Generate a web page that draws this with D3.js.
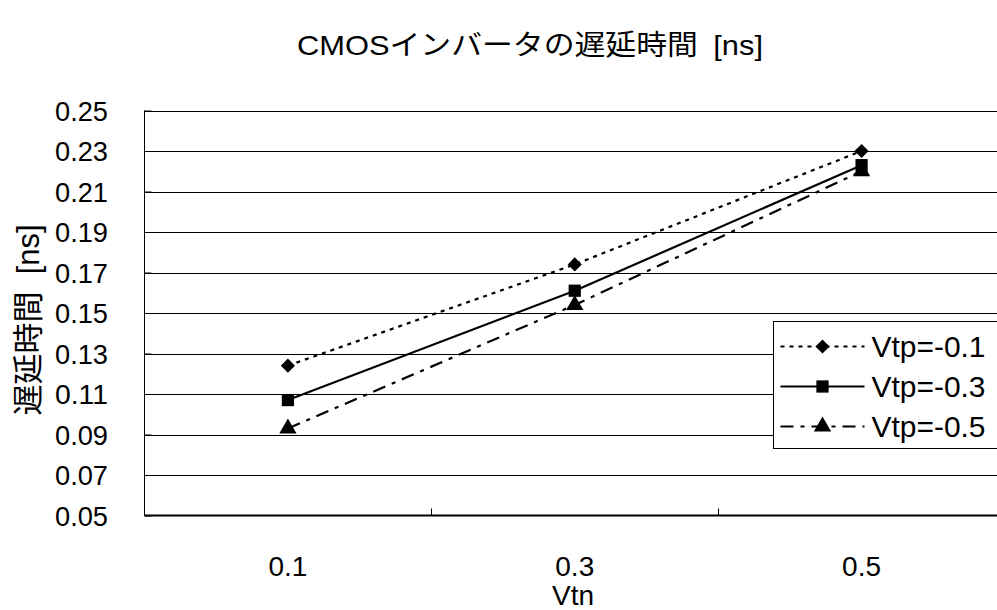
<!DOCTYPE html>
<html><head><meta charset="utf-8">
<script src="https://cdn.jsdelivr.net/npm/d3@7"></script>
<style>
html,body{margin:0;padding:0;background:#fff;overflow:hidden}
text{font-family:"Liberation Sans",Arial,"Noto Sans CJK JP",sans-serif;fill:#000;white-space:pre}
</style></head>
<body><svg id="chart" width="997" height="610"></svg>
<script>
// Delay of a CMOS inverter vs. Vtn for three Vtp settings
const categories = ["0.1", "0.3", "0.5"];
const seriesNames = ["Vtp=-0.1", "Vtp=-0.3", "Vtp=-0.5"];
const vtpA = [0.124, 0.174, 0.230];
const vtpB = [0.107, 0.161, 0.223];
const vtpC = [0.093, 0.154, 0.220];
const yTicks = [0.05, 0.07, 0.09, 0.11, 0.13, 0.15, 0.17, 0.19, 0.21, 0.23, 0.25];

// diamond = square turned by 45 degrees
const series = [
  {name: seriesNames[0], values: vtpA, dash: "4,5", symbol: d3.symbolSquare, size: 100, rot: 45},
  {name: seriesNames[1], values: vtpB, dash: null, symbol: d3.symbolSquare, size: 150, rot: 0},
  {name: seriesNames[2], values: vtpC, dash: "13,7,4,7", symbol: d3.symbolTriangle, size: 130, rot: 0}
];

const svg = d3.select("#chart");
const plotL = 144.5, plotR = 1005, plotT = 110.5, plotB = 515.5;
const fs = 28;

const x = d3.scaleBand().domain(categories).range([plotL, plotR]);
const y = d3.scaleLinear().domain([0.05, 0.25]).range([plotB, plotT]);

// horizontal gridlines
svg.append("g").selectAll("line").data(yTicks.slice(1)).join("line")
  .attr("x1", plotL).attr("x2", plotR)
  .attr("y1", d => Math.round(y(d)) + 0.5).attr("y2", d => Math.round(y(d)) + 0.5)
  .attr("stroke", "#000").attr("stroke-width", 1);

// y axis
const yAxis = svg.append("g").attr("transform", `translate(${plotL},0)`)
  .call(d3.axisRight(y).tickValues(yTicks).tickSize(7).tickFormat(""));
yAxis.select(".domain").remove();
yAxis.append("line").attr("x1", 0).attr("x2", 0).attr("y1", plotT).attr("y2", plotB)
  .attr("stroke", "#000");
yAxis.selectAll(".tick line").attr("stroke", "#000");

svg.append("g").selectAll("text").data(yTicks).join("text")
  .attr("x", 108).attr("y", d => y(d)).attr("dy", "0.36em")
  .attr("text-anchor", "end").attr("font-size", fs)
  .attr("textLength", 53).attr("lengthAdjust", "spacingAndGlyphs")
  .text(d => d3.format(".2f")(d));

// x axis: boundary ticks between categories pointing inward
svg.append("line").attr("x1", plotL).attr("x2", plotR).attr("y1", plotB).attr("y2", plotB)
  .attr("stroke", "#000").attr("stroke-width", 2);
const bounds = categories.slice(1).map(c => x(c));
svg.append("g").selectAll("line").data(bounds).join("line")
  .attr("x1", d => Math.round(d) + 0.5).attr("x2", d => Math.round(d) + 0.5)
  .attr("y1", plotB).attr("y2", plotB - 7).attr("stroke", "#000");

svg.append("g").selectAll("text").data(categories).join("text")
  .attr("x", d => x(d) + x.bandwidth() / 2).attr("y", 566)
  .attr("dy", "0.36em").attr("text-anchor", "middle").attr("font-size", fs)
  .text(d => d);

// series lines and markers
const line = d3.line()
  .x((d, i) => x(categories[i]) + x.bandwidth() / 2)
  .y(d => y(d));

series.forEach(s => {
  svg.append("path").datum(s.values)
    .attr("d", line).attr("fill", "none").attr("stroke", "#000")
    .attr("stroke-width", 2.2).attr("stroke-dasharray", s.dash);
  svg.append("g").selectAll("path").data(s.values).join("path")
    .attr("transform", (d, i) => `translate(${x(categories[i]) + x.bandwidth() / 2},${y(d)}) rotate(${s.rot})`)
    .attr("d", d3.symbol(s.symbol, s.size)).attr("fill", "#000");
});

// legend
const lg = svg.append("g").attr("transform", "translate(773.5,321.5)");
lg.append("rect").attr("width", 240).attr("height", 127)
  .attr("fill", "#fff").attr("stroke", "#000").attr("stroke-width", 1);
series.forEach((s, i) => {
  const cy = 25 + i * 40;
  lg.append("line").attr("x1", 7).attr("x2", 91).attr("y1", cy).attr("y2", cy)
    .attr("stroke", "#000").attr("stroke-width", 2.2).attr("stroke-dasharray", s.dash);
  lg.append("path").attr("transform", `translate(49,${cy}) rotate(${s.rot})`)
    .attr("d", d3.symbol(s.symbol, s.size)).attr("fill", "#000");
  lg.append("text").attr("x", 98).attr("y", cy).attr("dy", "0.36em")
    .attr("font-size", 30).attr("textLength", 114).attr("lengthAdjust", "spacingAndGlyphs")
    .text(s.name);
});

// titles
svg.append("text").attr("x", 530).attr("y", 45).attr("dy", "0.36em")
  .attr("text-anchor", "middle").attr("font-size", fs)
  .attr("textLength", 466).attr("lengthAdjust", "spacingAndGlyphs")
  .text("CMOSインバータの遅延時間\u2002[ns]");
svg.append("text").attr("x", 573).attr("y", 595).attr("dy", "0.36em")
  .attr("text-anchor", "middle").attr("font-size", fs).text("Vtn");
svg.append("text").attr("transform", "translate(28,320) rotate(-90)")
  .attr("dy", "0.36em").attr("text-anchor", "middle").attr("font-size", 31)
  .text("遅延時間  [ns]");
</script></body></html>
